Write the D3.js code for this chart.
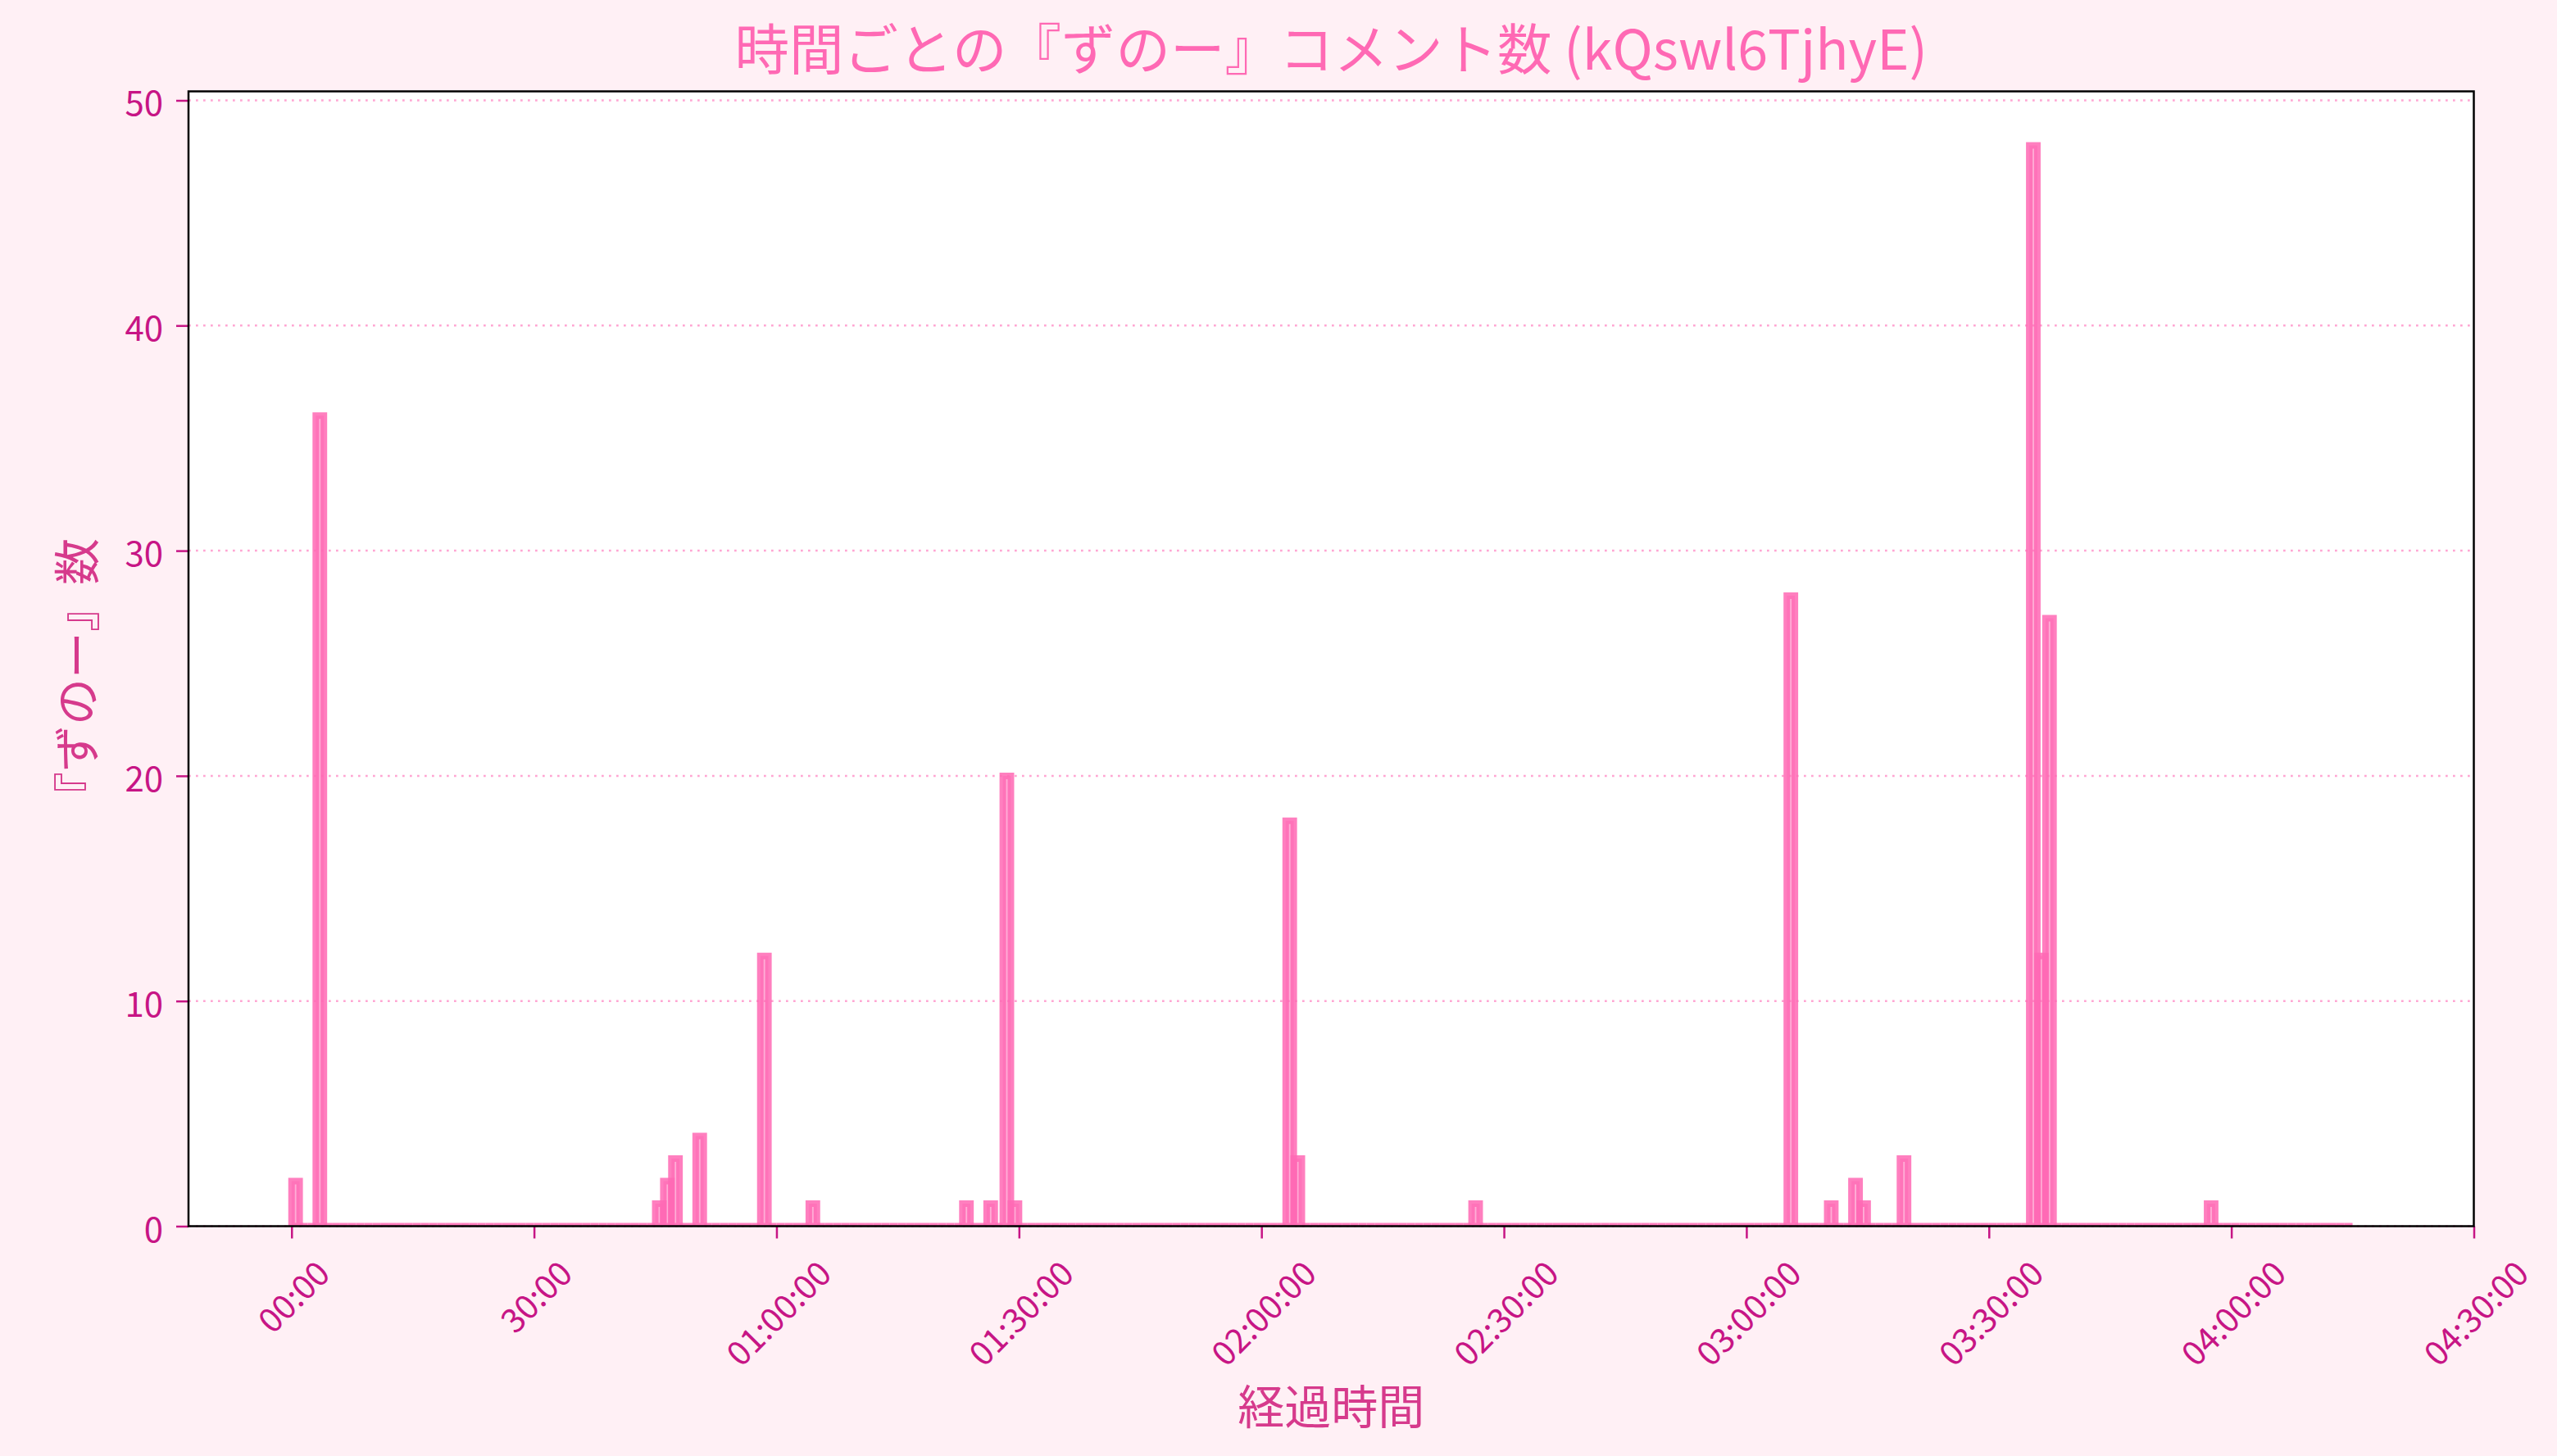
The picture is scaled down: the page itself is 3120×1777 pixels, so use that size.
<!DOCTYPE html>
<html>
<head>
<meta charset="utf-8">
<script src="https://cdn.jsdelivr.net/npm/d3@7"></script>
<style>
  body { margin: 0; background: #FFF0F5; }
  text { font-family: "Noto Sans CJK JP", "Noto Sans", sans-serif; }
</style>
</head>
<body>
<div id="chart"></div>
<script>
// Size of the picture and of the plot box inside it
var svgWidth = 3120;
var svgHeight = 1777;

var margin = {
  top: 111.5,
  right: 101.5,
  bottom: 280.5,
  left: 230
};

var width = svgWidth - margin.left - margin.right;
var height = svgHeight - margin.top - margin.bottom;

// Data: one bin per minute, only the minutes that had comments are listed
var totalMinutes = 255;
var activeMinutes = [0, 3, 45, 46, 47, 50, 58, 64, 83, 86, 88, 89, 123, 124, 146, 185, 190, 193, 194, 199, 215, 216, 217, 237];
var activeCounts  = [2, 36, 1, 2, 3, 4, 12, 1, 1, 1, 20, 1, 18, 3, 1, 28, 1, 2, 1, 3, 48, 12, 27, 1];

var xTickMinutes = [0, 30, 60, 90, 120, 150, 180, 210, 240, 270];
var xTickLabels = ["00:00", "30:00", "01:00:00", "01:30:00", "02:00:00", "02:30:00", "03:00:00", "03:30:00", "04:00:00", "04:30:00"];
var yTicks = [0, 10, 20, 30, 40, 50];

var titleText = "時間ごとの『ずのー』コメント数 (kQswl6TjhyE)";
var xLabelText = "経過時間";
var yLabelText = "『ずのー』数";

// full per-minute series (minutes not listed are zero)
var bins = d3.range(totalMinutes).map(function(m) {
  var i = activeMinutes.indexOf(m);
  return {minute: m, count: i >= 0 ? activeCounts[i] : 0};
});

var tickColor = "#C71585";
var barColor = "#FF69B4";
var xTickFont = 41;
var yTickFont = 42;

var svg = d3.select("#chart")
  .append("svg")
  .attr("width", svgWidth)
  .attr("height", svgHeight)
  .style("display", "block");

svg.append("rect")
  .attr("width", svgWidth)
  .attr("height", svgHeight)
  .attr("fill", "#FFF0F5");

var chartGroup = svg.append("g")
  .attr("transform", `translate(${margin.left}, ${margin.top})`);

// scales
var xScale = d3.scaleLinear()
  .domain([-12.75, 270])
  .range([0, width]);

var yScale = d3.scaleLinear()
  .domain([0, 50.4])
  .range([height, 0]);

// plot background
chartGroup.append("rect")
  .attr("width", width)
  .attr("height", height)
  .attr("fill", "white");

svg.append("clipPath")
  .attr("id", "plotClip")
  .append("rect")
  .attr("width", width)
  .attr("height", height);

// dotted horizontal grid
chartGroup.append("g")
  .selectAll("line")
  .data(yTicks)
  .enter()
  .append("line")
  .attr("x1", 0)
  .attr("x2", width)
  .attr("y1", d => yScale(d))
  .attr("y2", d => yScale(d))
  .attr("stroke", barColor)
  .attr("stroke-opacity", 0.6)
  .attr("stroke-width", 2.5)
  .attr("stroke-dasharray", "2.7,6.3");

// bars (paths so that zero bars still show their edge)
chartGroup.append("g")
  .attr("clip-path", "url(#plotClip)")
  .selectAll("path")
  .data(bins)
  .enter()
  .append("path")
  .attr("d", function(d) {
    var x0 = xScale(d.minute);
    var x1 = xScale(d.minute + 1);
    var y0 = yScale(0);
    var y1 = yScale(d.count);
    return `M${x0},${y0}V${y1}H${x1}V${y0}Z`;
  })
  .attr("fill", barColor)
  .attr("fill-opacity", 0.55)
  .attr("stroke", barColor)
  .attr("stroke-opacity", 0.85)
  .attr("stroke-width", 8)
  .attr("stroke-linejoin", "miter");

// x axis
var bottomAxis = d3.axisBottom(xScale)
  .tickValues(xTickMinutes)
  .tickFormat((d, i) => xTickLabels[i])
  .tickSize(15)
  .tickPadding(0);

var xAxis = chartGroup.append("g")
  .attr("transform", `translate(0, ${height})`)
  .call(bottomAxis);

xAxis.select(".domain").remove();
xAxis.selectAll(".tick line")
  .attr("stroke", tickColor)
  .attr("stroke-width", 2.5);
xAxis.selectAll(".tick text")
  .attr("fill", tickColor)
  .attr("font-size", xTickFont)
  .attr("text-anchor", "middle")
  .attr("dominant-baseline", "central")
  .attr("y", null)
  .attr("dy", null)
  .each(function() {
    // rotate 45 degrees, keep the box centred under the tick
    var w = this.getComputedTextLength();
    var h = xTickFont * 0.75;
    var cy = 37 + (w + h) * Math.SQRT1_2 / 2;
    d3.select(this).attr("transform", `translate(0, ${cy}) rotate(-45)`);
  });

// y axis
var leftAxis = d3.axisLeft(yScale)
  .tickValues(yTicks)
  .tickSize(15)
  .tickPadding(16);

var yAxis = chartGroup.append("g")
  .call(leftAxis);

yAxis.select(".domain").remove();
yAxis.selectAll(".tick line")
  .attr("stroke", tickColor)
  .attr("stroke-width", 2.5);
yAxis.selectAll(".tick text")
  .attr("fill", tickColor)
  .attr("font-size", yTickFont)
  .attr("dy", null)
  .attr("dominant-baseline", "central");

// frame
chartGroup.append("rect")
  .attr("width", width)
  .attr("height", height)
  .attr("fill", "none")
  .attr("stroke", "black")
  .attr("stroke-width", 2.5);

// title and axis labels
svg.append("text")
  .attr("x", margin.left + width / 2)
  .attr("y", 56)
  .attr("text-anchor", "middle")
  .attr("dominant-baseline", "central")
  .attr("font-size", 66.5)
  .attr("fill", "#FF69B4")
  .text(titleText);

svg.append("text")
  .attr("x", margin.left + width / 2)
  .attr("y", 1713)
  .attr("text-anchor", "middle")
  .attr("dominant-baseline", "central")
  .attr("font-size", 57)
  .attr("fill", "#D63A8C")
  .text(xLabelText);

svg.append("text")
  .attr("transform", "translate(90, 828) rotate(-90)")
  .attr("text-anchor", "middle")
  .attr("dominant-baseline", "central")
  .attr("font-size", 57)
  .attr("fill", "#D63A8C")
  .text(yLabelText);
</script>
</body>
</html>
